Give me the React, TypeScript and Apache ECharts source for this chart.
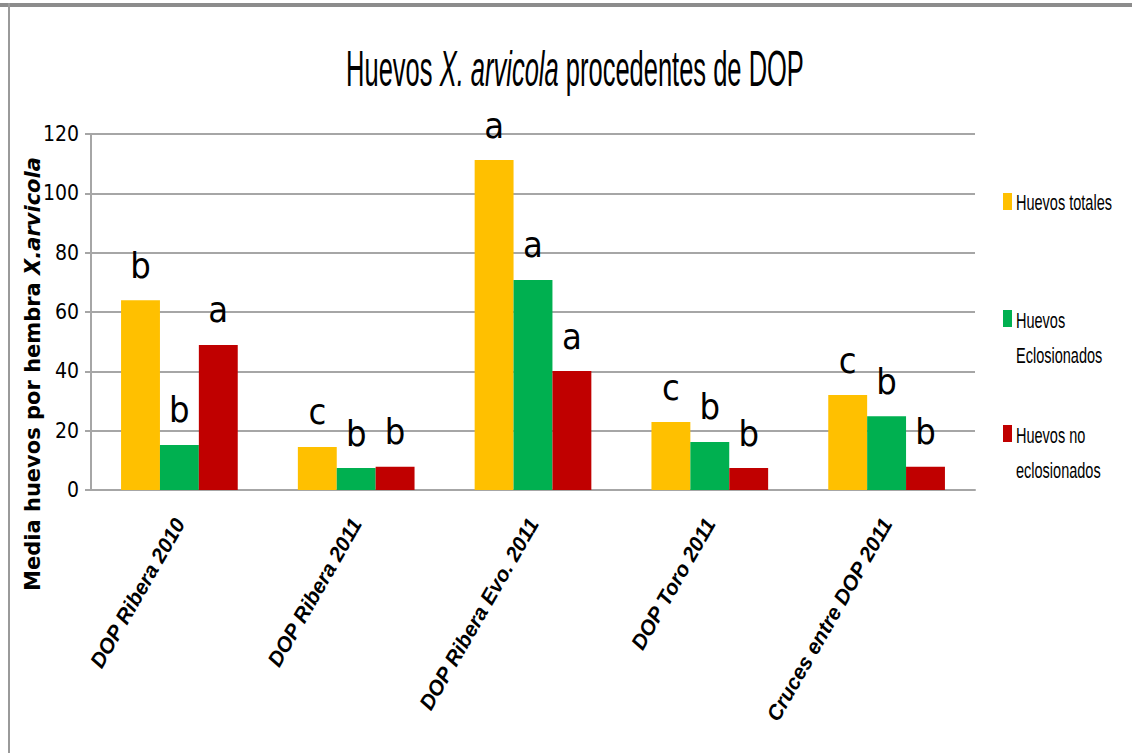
import React, { useEffect, useRef } from "react";
import * as echarts from "echarts";

const categories = [
  "DOP Ribera 2010",
  "DOP Ribera 2011",
  "DOP Ribera Evo. 2011",
  "DOP Toro 2011",
  "Cruces entre DOP 2011",
];
const seriesNames = ["Huevos totales", "Huevos Eclosionados", "Huevos no eclosionados"];
const legendLines = [["Huevos totales"], ["Huevos", "Eclosionados"], ["Huevos no", "eclosionados"]];
const totales = [64, 14.5, 111.2, 22.9, 32];
const eclosionados = [15.2, 7.4, 70.8, 16.2, 24.9];
const noEclosionados = [48.9, 7.8, 40.1, 7.4, 7.8];
const lettersTotales = ["b", "c", "a", "c", "c"];
const lettersEclosionados = ["b", "b", "a", "b", "b"];
const lettersNoEclosionados = ["a", "b", "a", "b", "b"];

const colors = ["#FFC000", "#00B050", "#C00000"];
const COND = "'DejaVu Sans Condensed', 'Liberation Sans', Arial, sans-serif";
const SANS = "'Liberation Sans', Arial, sans-serif";

export default function App() {
  const ref = useRef<HTMLDivElement>(null);

  useEffect(() => {
    if (!ref.current) return;
    const chart = echarts.init(ref.current, null, { renderer: "svg" });

    const makeSeries = (name: string, values: number[], letters: string[], color: string) => ({
      name,
      type: "bar",
      data: values,
      barGap: "0%",
      barCategoryGap: "34%",
      itemStyle: { color },
      label: {
        show: true,
        position: "top",
        distance: 17,
        formatter: (p: any) => letters[p.dataIndex],
        fontFamily: COND,
        fontSize: 36,
        color: "#000",
      },
    });

    // legend drawn as graphic so the labels can be horizontally condensed
    const legendIconTops = [193, 310, 425];
    const legendLineYs = [[202], [320, 355], [435, 470]];
    const legendGraphics: any[] = [];
    seriesNames.forEach((_, i) => {
      legendGraphics.push({
        type: "rect",
        shape: { x: 1003, y: legendIconTops[i], width: 9, height: 17 },
        style: { fill: colors[i] },
        silent: true,
      });
      legendLines[i].forEach((line, j) => {
        legendGraphics.push({
          type: "text",
          x: 1016,
          y: legendLineYs[i][j],
          scaleX: 0.66,
          style: {
            text: line,
            fontFamily: SANS,
            fontSize: 22,
            fill: "#000",
            align: "left",
            verticalAlign: "middle",
          },
          silent: true,
        });
      });
    });

    chart.setOption({
      animation: false,
      backgroundColor: "#fff",
      color: colors,
      grid: { left: 91, right: 157, top: 134, bottom: 263, containLabel: false },
      xAxis: {
        type: "category",
        data: categories,
        axisLine: { show: true, lineStyle: { color: "#a6a6a6", width: 2 } },
        axisTick: { show: false },
        axisLabel: {
          interval: 0,
          rotate: 60,
          margin: 30,
          fontFamily: SANS,
          fontStyle: "italic",
          fontWeight: "bold",
          fontSize: 21,
          color: "#000",
        },
      },
      yAxis: {
        type: "value",
        min: 0,
        max: 120,
        interval: 20,
        axisLine: { show: true, lineStyle: { color: "#a6a6a6", width: 2 } },
        axisTick: { show: true, length: 6, lineStyle: { color: "#a6a6a6", width: 2 } },
        splitLine: { show: true, lineStyle: { color: "#a6a6a6", width: 2 } },
        axisLabel: {
          margin: 12,
          fontFamily: COND,
          fontSize: 21,
          color: "#000",
        },
      },
      graphic: [
        { type: "rect", shape: { x: 0, y: 3, width: 1132, height: 4 }, style: { fill: "#8c8c8c" }, silent: true },
        { type: "rect", shape: { x: 8, y: 3, width: 2, height: 750 }, style: { fill: "#9a9a9a" }, silent: true },
        {
          type: "text",
          x: 575,
          y: 68,
          scaleX: 0.51,
          style: {
            text: "Huevos {i|X. arvicola} procedentes de DOP",
            fontFamily: SANS,
            fontSize: 50,
            fill: "#000",
            align: "center",
            verticalAlign: "middle",
            rich: {
              i: { fontFamily: SANS, fontSize: 50, fontStyle: "italic", fill: "#000" },
            },
          },
          silent: true,
        },
        {
          type: "text",
          x: 33,
          y: 374,
          rotation: Math.PI / 2,
          style: {
            text: "Media huevos por hembra {i|X.arvicola}",
            fontFamily: "'DejaVu Sans', Verdana, sans-serif",
            fontWeight: "bold",
            fontSize: 21,
            fill: "#000",
            align: "center",
            verticalAlign: "middle",
            rich: {
              i: {
                fontFamily: "'DejaVu Sans', Verdana, sans-serif",
                fontWeight: "bold",
                fontStyle: "italic",
                fontSize: 21,
                fill: "#000",
              },
            },
          },
          silent: true,
        },
        ...legendGraphics,
      ],
      series: [
        makeSeries(seriesNames[0], totales, lettersTotales, colors[0]),
        makeSeries(seriesNames[1], eclosionados, lettersEclosionados, colors[1]),
        makeSeries(seriesNames[2], noEclosionados, lettersNoEclosionados, colors[2]),
      ],
    });

    return () => chart.dispose();
  }, []);

  return <div ref={ref} style={{ width: 1132, height: 753, position: "absolute", left: 0, top: 0 }} />;
}
